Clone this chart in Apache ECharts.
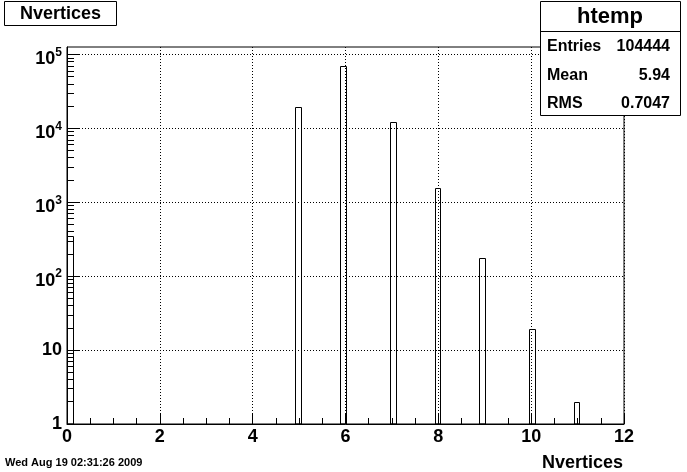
<!DOCTYPE html>
<html><head><meta charset="utf-8">
<script src="https://cdn.jsdelivr.net/npm/echarts@6/dist/echarts.min.js"></script>
<style>html,body{margin:0;padding:0;background:#fff}#c{width:687px;height:472px}</style>
</head><body><div id="c"></div>
<script>
// ---- data ----
const binLow = [0, 4.92, 5.88, 6.96, 7.92, 8.88, 9.96, 10.92];   // bin low edges
const binWidth = 0.12;                                            // 100 bins over [0,12]
const counts = [350, 19700, 70600, 12000, 1540, 178, 19, 2];      // entries per bin
const xTickValues = [0, 2, 4, 6, 8, 10, 12];
const yMajorTicks = [1, 10, 100, 1000, 10000, 100000];
const yMinorTicks = [2,3,4,5,6,7,8,9, 20,30,40,50,60,70,80,90, 200,300,400,500,600,700,800,900,
  2000,3000,4000,5000,6000,7000,8000,9000, 20000,30000,40000,50000,60000,70000,80000,90000];
const statNames = ['Entries', 'Mean', 'RMS'];
const statValues = ['104444', '5.94', '0.7047'];
const histName = 'htemp';
const titleText = 'Nvertices';
const xTitle = 'Nvertices';
const dateText = 'Wed Aug 19 02:31:26 2009';

const FF = '"Liberation Sans", Arial, Helvetica, sans-serif';
const Y_MIN = 1, Y_MAX = 126000;

const barData = binLow.map((lo, i) => [lo, lo + binWidth, counts[i]]);

const chart = echarts.init(document.getElementById('c'), null, {renderer: 'canvas'});

const statRows = [];
const rowY = [46.5, 76, 104];
statNames.forEach((n, i) => {
  statRows.push({type: 'text', z: 101, x: 547, y: rowY[i],
    style: {text: n, fontFamily: FF, fontWeight: 'bold', fontSize: 16, fill: '#000', align: 'left', verticalAlign: 'middle'}});
  statRows.push({type: 'text', z: 101, x: 670, y: rowY[i],
    style: {text: statValues[i], fontFamily: FF, fontWeight: 'bold', fontSize: 16, fill: '#000', align: 'right', verticalAlign: 'middle'}});
});

chart.setOption({
  animation: false,
  backgroundColor: '#fff',
  grid: {left: 67, right: 63, top: 47, bottom: 48, show: true, borderColor: '#000', borderWidth: 1, backgroundColor: 'transparent'},
  xAxis: {
    type: 'value', min: xTickValues[0], max: xTickValues[xTickValues.length - 1], interval: 2,
    axisLine: {show: true, onZero: false, lineStyle: {color: '#000', width: 1}},
    axisTick: {show: true, inside: true, length: 11, lineStyle: {color: '#000', width: 1}},
    minorTick: {show: true, splitNumber: 4, length: 6, lineStyle: {color: '#000', width: 1}},
    splitLine: {show: true, lineStyle: {color: '#000', width: 1, type: [1, 2]}},
    axisLabel: {show: true, margin: 4, color: '#000', fontFamily: FF, fontWeight: 'bold', fontSize: 18,
      formatter: v => xTickValues.indexOf(v) >= 0 ? String(v) : ''}
  },
  yAxis: [{
    type: 'log', logBase: 10, min: Y_MIN, max: Y_MAX,
    axisLine: {show: true, lineStyle: {color: '#000', width: 1}},
    axisTick: {show: true, inside: true, length: 12, customValues: yMajorTicks, lineStyle: {color: '#000', width: 1}},
    splitLine: {show: true, lineStyle: {color: '#000', width: 1, type: [1, 2]}},
    axisLabel: {show: true, margin: 5, color: '#000',
      formatter: v => {
        const e = Math.log10(v), r = Math.round(e);
        if (Math.abs(e - r) > 1e-6) return '';
        if (r === 0) return '{c|1}';
        if (r === 1) return '{c|10}';
        return '{b|10}{s|' + r + '}';
      },
      rich: {
        c: {fontFamily: FF, fontWeight: 'bold', fontSize: 18, lineHeight: 18, color: '#000'},
        b: {fontFamily: FF, fontWeight: 'bold', fontSize: 18, lineHeight: 18, padding: [10, 0, 0, 0], color: '#000'},
        s: {fontFamily: FF, fontWeight: 'bold', fontSize: 12, lineHeight: 12, padding: [6, 0, 10, 0], color: '#000'}
      }
    }
  }, {
    type: 'log', logBase: 10, min: Y_MIN, max: Y_MAX, position: 'left',
    axisLine: {show: false},
    axisTick: {show: true, inside: true, length: 7, customValues: yMinorTicks, lineStyle: {color: '#000', width: 1}},
    splitLine: {show: false},
    axisLabel: {show: false}
  }],
  series: [{
    type: 'custom',
    xAxisIndex: 0, yAxisIndex: 0,
    clip: true,
    data: barData,
    encode: {x: [0, 1], y: 2},
    renderItem: (params, api) => {
      const p0 = api.coord([api.value(0), api.value(2)]);
      const p1 = api.coord([api.value(1), Y_MIN]);
      const x0 = Math.round(p0[0]) + 0.5, x1 = Math.round(p1[0]) + 0.5;
      const y0 = Math.round(p0[1]) + 0.5, y1 = p1[1];
      return {type: 'rect', shape: {x: x0, y: y0, width: x1 - x0, height: y1 - y0},
        style: {fill: 'none', stroke: '#000', lineWidth: 1}};
    },
    z: 5
  }],
  graphic: [
    {type: 'rect', z: 100, shape: {x: 4.5, y: 1.5, width: 112, height: 24}, style: {fill: '#fff', stroke: '#000', lineWidth: 1}},
    {type: 'text', z: 101, x: 60.5, y: 14, style: {text: titleText, fontFamily: FF, fontWeight: 'bold', fontSize: 18, fill: '#000', align: 'center', verticalAlign: 'middle'}},
    {type: 'rect', z: 100, shape: {x: 540.5, y: 1.5, width: 140, height: 114}, style: {fill: '#fff', stroke: '#000', lineWidth: 1}},
    {type: 'line', z: 101, shape: {x1: 540.5, y1: 31.5, x2: 680.5, y2: 31.5}, style: {stroke: '#000', lineWidth: 1}},
    {type: 'text', z: 101, x: 610, y: 17, style: {text: histName, fontFamily: FF, fontWeight: 'bold', fontSize: 22, fill: '#000', align: 'center', verticalAlign: 'middle'}},
    ...statRows,
    {type: 'text', z: 101, x: 5, y: 463, style: {text: dateText, fontFamily: FF, fontWeight: 'bold', fontSize: 11, fill: '#000', align: 'left', verticalAlign: 'middle'}},
    {type: 'text', z: 101, x: 623, y: 463, style: {text: xTitle, fontFamily: FF, fontWeight: 'bold', fontSize: 18, fill: '#000', align: 'right', verticalAlign: 'middle'}}
  ]
});
</script></body></html>
